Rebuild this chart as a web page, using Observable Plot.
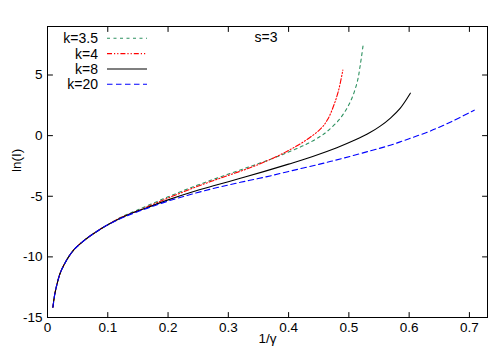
<!DOCTYPE html>
<html><head><meta charset="utf-8">
<script src="https://cdn.jsdelivr.net/npm/d3@7"></script>
<script src="https://cdn.jsdelivr.net/npm/@observablehq/plot@0.6"></script>
<style>
body{margin:0;background:#fff}
svg{font-family:"Liberation Sans",Arial,Helvetica,sans-serif}
</style>
</head><body><div id="chart"></div>
<script>
// ---- data ----
const xTicks = [0, 0.1, 0.2, 0.3, 0.4, 0.5, 0.6, 0.7];
const yTicks = [-15, -10, -5, 0, 5];
const keys = ["k=3.5", "k=4", "k=8", "k=20"];
const annotation = "s=3";
const xLabel = "1/γ";
const yLabel = "ln(I)";

// shared low-x part (all curves coincide)
const baseX = [0.009, 0.012, 0.016, 0.021, 0.027, 0.035, 0.045, 0.057, 0.07, 0.085, 0.1];
const baseY = [-14.15, -13.1, -12.2, -11.35, -10.7, -10.0, -9.35, -8.8, -8.3, -7.8, -7.35];

const x35 = [0.12, 0.15, 0.2, 0.248, 0.29, 0.336, 0.37, 0.4, 0.43, 0.453, 0.464, 0.486, 0.5025, 0.514, 0.519, 0.524];
const y35 = [-6.78, -6.12, -5.05, -4.1, -3.35, -2.55, -1.95, -1.35, -0.7, -0.05, 0.35, 1.45, 2.8, 4.45, 5.85, 7.6];

const x4 = [0.12, 0.15, 0.2, 0.248, 0.29, 0.336, 0.37, 0.397, 0.425, 0.453, 0.465, 0.475, 0.483, 0.49];
const y4 = [-6.8, -6.2, -5.15, -4.2, -3.45, -2.65, -1.95, -1.3, -0.5, 0.55, 1.35, 2.5, 3.75, 5.4];

const x8 = [0.13, 0.165, 0.2, 0.24, 0.28, 0.32, 0.36, 0.4, 0.44, 0.48, 0.51, 0.535, 0.552, 0.569, 0.585, 0.602];
const y8 = [-6.6, -5.95, -5.3, -4.65, -4.08, -3.52, -2.95, -2.35, -1.72, -1.0, -0.37, 0.25, 0.78, 1.45, 2.25, 3.5];

const x20 = [0.13, 0.165, 0.2, 0.24, 0.28, 0.32, 0.36, 0.403, 0.45, 0.49, 0.536, 0.57, 0.6, 0.635, 0.67, 0.708];
const y20 = [-6.65, -6.0, -5.4, -4.82, -4.3, -3.85, -3.43, -2.92, -2.37, -1.87, -1.25, -0.77, -0.25, 0.38, 1.15, 2.1];

// ---- build tables ----
function series(xs, ys) {
  const rows = baseX.map((x, i) => ({x, y: baseY[i]}));
  xs.forEach((x, i) => rows.push({x, y: ys[i]}));
  return rows;
}
const data = [series(x35, y35), series(x4, y4), series(x8, y8), series(x20, y20)];

// ---- styles ----
const colors = ["#2e9160", "#ff0000", "#000000", "#0000ff"];
const dashes = ["3,3.5", "5,2,1.2,2,1.2,2", null, "5.5,3.5"];

const tickShape = {draw(ctx, l) { ctx.moveTo(0, 0); ctx.lineTo(0, -l); }};
const tickOpts = {length: 5, anchor: "start", shape: tickShape, stroke: "#000", strokeWidth: 1};

const chart = Plot.plot({
  width: 500, height: 350,
  marginLeft: 47, marginRight: 13, marginTop: 26, marginBottom: 33,
  x: {domain: [0, 0.73]},
  y: {domain: [-15, 9]},
  style: {fontFamily: '"Liberation Sans",Arial,sans-serif', fontSize: "13px", color: "#000", background: "#fff"},
  marks: [
    ...data.map((rows, i) => Plot.line(rows, {
      x: "x", y: "y", stroke: colors[i], strokeWidth: 1.1,
      strokeDasharray: dashes[i] || undefined, curve: "catmull-rom"
    })),
    Plot.frame({stroke: "#000", strokeWidth: 1}),
    Plot.vector(xTicks, {x: d => d, frameAnchor: "bottom", rotate: 0, ...tickOpts}),
    Plot.vector(xTicks, {x: d => d, frameAnchor: "top", rotate: 180, ...tickOpts}),
    Plot.vector(yTicks, {y: d => d, frameAnchor: "left", rotate: 90, ...tickOpts}),
    Plot.vector(yTicks, {y: d => d, frameAnchor: "right", rotate: -90, ...tickOpts}),
    Plot.axisX(xTicks, {tickSize: 0, tickPadding: 5, label: null, tickFormat: d => String(d), fontSize: 13.5}),
    Plot.axisY(yTicks, {tickSize: 0, tickPadding: 5, label: null, tickFormat: d => String(d), fontSize: 13.5}),
    Plot.text([xLabel], {frameAnchor: "bottom", dy: 21, fontSize: 13.5, lineAnchor: "middle"}),
    Plot.text([yLabel], {frameAnchor: "left", dx: -31, rotate: -90, fontSize: 13.5, lineAnchor: "middle"}),
    Plot.text([annotation], {frameAnchor: "top-left", dx: 207, dy: 11, textAnchor: "start", lineAnchor: "middle", fontSize: 14})
  ]
});

// ---- legend (inside top-left) ----
const svg = d3.select(chart);
const lg = svg.append("g").attr("font-size", 14);
keys.forEach((k, i) => {
  const yy = 38.3 + i * 15.33;
  lg.append("text").attr("x", 98).attr("y", yy).attr("text-anchor", "end")
    .attr("dominant-baseline", "central").attr("fill", "#000").text(k);
  const ln = lg.append("line").attr("x1", 107).attr("x2", 147).attr("y1", yy).attr("y2", yy)
    .attr("stroke", colors[i]).attr("stroke-width", 1.1);
  if (dashes[i]) ln.attr("stroke-dasharray", dashes[i]);
});

document.getElementById("chart").appendChild(chart);
</script>
</body></html>
